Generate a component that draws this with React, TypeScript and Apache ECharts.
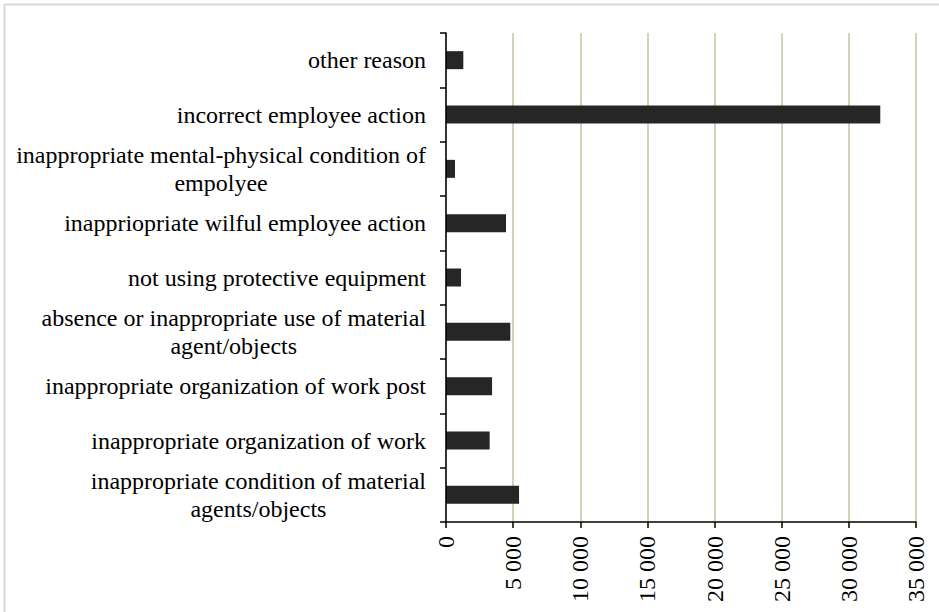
import React, { useEffect, useRef } from "react";
import * as echarts from "echarts";

const categories: string[] = [
  "other reason",
  "incorrect employee action",
  "inappropriate mental-physical condition of\nempolyee",
  "inappriopriate wilful employee action",
  "not using protective equipment",
  "absence or inappropriate use of material\nagent/objects",
  "inappropriate organization of work post",
  "inappropriate organization of work",
  "inappropriate condition of material\nagents/objects",
];

const values: number[] = [1290, 32340, 670, 4470, 1120, 4790, 3430, 3250, 5440];

const xMin = 0;
const xMax = 35000;
const xInterval = 5000;

const FONT = "Liberation Serif";

export default function App() {
  const ref = useRef<HTMLDivElement>(null);
  useEffect(() => {
    if (!ref.current) return;
    const chart = echarts.init(ref.current, undefined, { renderer: "svg" });
    chart.setOption({
      animation: false,
      backgroundColor: "#ffffff",
      textStyle: { fontFamily: FONT },
      graphic: [
        {
          type: "rect",
          shape: { x: 4.5, y: 4.5, width: 1000, height: 1000 },
          style: { fill: "none", stroke: "#d9d9d9", lineWidth: 2 },
          silent: true,
          z: -10,
        },
      ],
      grid: {
        left: 446,
        right: 23,
        top: 33,
        bottom: 90,
        containLabel: false,
        outerBoundsMode: "none",
      },
      xAxis: {
        type: "value",
        min: xMin,
        max: xMax,
        interval: xInterval,
        axisLine: { show: true, lineStyle: { color: "#000", width: 1.5 } },
        axisTick: { show: true, length: 6, lineStyle: { color: "#000", width: 1.5 } },
        splitLine: { show: true, lineStyle: { color: "#c9c19b", width: 1.5 } },
        axisLabel: {
          rotate: 90,
          margin: 14,
          color: "#000",
          fontSize: 24,
          fontFamily: FONT,
          formatter: (v: number) => String(v).replace(/\B(?=(\d{3})+(?!\d))/g, " "),
        },
      },
      yAxis: {
        type: "category",
        data: categories,
        inverse: true,
        z: 5,
        axisLine: { show: true, lineStyle: { color: "#000", width: 1.5 } },
        axisTick: { show: true, length: 6, lineStyle: { color: "#000", width: 1.5 } },
        axisLabel: {
          margin: 20,
          color: "#000",
          fontFamily: FONT,
          fontSize: 24,
          formatter: (v: string) =>
            v
              .split("\n")
              .map((s) => `{c|${s}}`)
              .join("\n"),
          rich: {
            c: {
              fontSize: 24,
              fontFamily: FONT,
              color: "#000",
              align: "center",
              lineHeight: 28,
            },
          },
        },
      },
      series: [
        {
          type: "bar",
          data: values,
          barWidth: 18,
          itemStyle: { color: "#262626" },
        },
      ],
    });
    return () => chart.dispose();
  }, []);
  return (
    <div
      ref={ref}
      style={{ position: "fixed", left: 0, top: 0, width: 939, height: 612 }}
    />
  );
}
